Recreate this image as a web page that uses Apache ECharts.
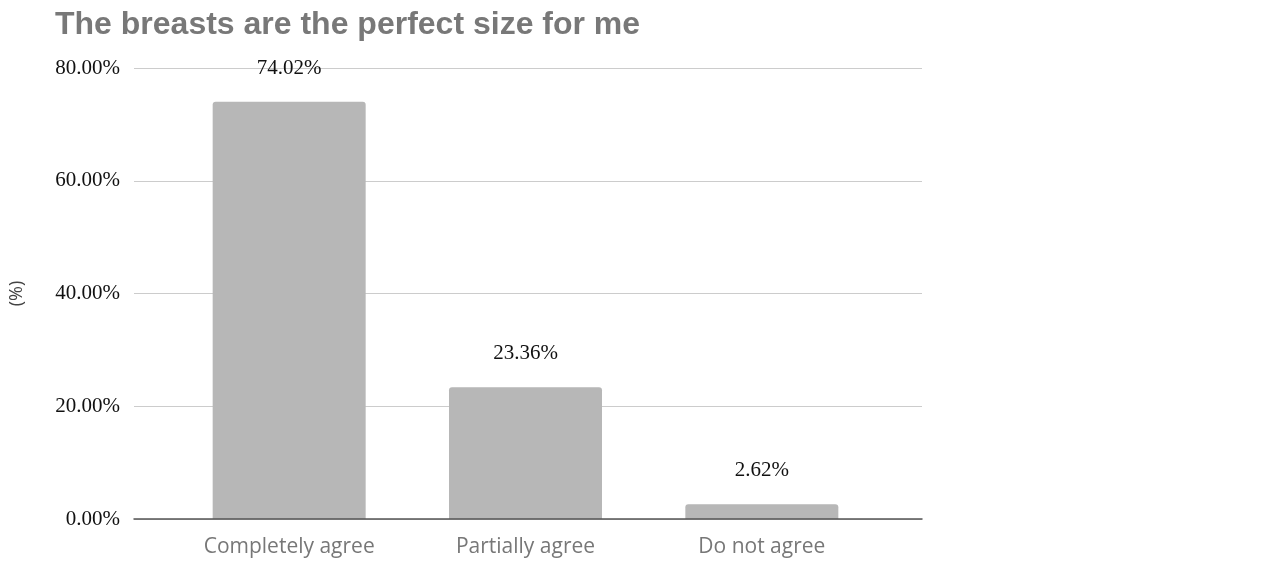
<!DOCTYPE html>
<html>
<head>
<meta charset="utf-8">
<script src="https://cdn.jsdelivr.net/npm/echarts@6/dist/echarts.min.js"></script>
<style>
  html, body { margin: 0; padding: 0; background: #fff; }
  #chart { width: 1280px; height: 564px; }
</style>
</head>
<body>
<div id="chart"></div>
<script>
const categories = ['Completely agree', 'Partially agree', 'Do not agree']
const values = [74.02, 23.36, 2.62]
const yTicks = [0, 20, 40, 60, 80]

const pct = v => v.toFixed(2) + '%'

const chart = echarts.init(document.getElementById('chart'))
chart.setOption({
  animation: false,
  title: {
    text: 'The breasts are the perfect size for me',
    left: 50,
    top: 4,
    textStyle: {
      fontFamily: 'Liberation Sans',
      fontWeight: 'bold',
      fontSize: 32,
      color: '#787878'
    }
  },
  // grid 0 carries the frame (gridlines, y labels, base line), grid 1 the bars
  grid: [
    { left: 131, right: 358, top: 68, bottom: 45 },
    { left: 171, right: 400, top: 68, bottom: 45 }
  ],
  xAxis: [{
    type: 'category',
    gridIndex: 0,
    data: categories,
    z: 5,
    axisTick: { show: false },
    axisLabel: { show: false },
    axisLine: { lineStyle: { color: '#555', width: 1.5 } }
  }, {
    type: 'category',
    gridIndex: 1,
    data: categories,
    axisTick: { show: false },
    axisLine: { show: false },
    axisLabel: {
      margin: 18,
      fontFamily: 'Open Sans',
      fontSize: 21,
      color: '#777'
    }
  }],
  yAxis: [{
    type: 'value',
    gridIndex: 0,
    min: yTicks[0],
    max: yTicks[yTicks.length - 1],
    interval: 20,
    name: '(%)',
    nameLocation: 'middle',
    nameGap: 108,
    nameTextStyle: {
      fontFamily: 'Open Sans',
      fontSize: 18,
      color: '#444'
    },
    axisLabel: {
      margin: 14,
      fontFamily: 'Liberation Serif',
      fontSize: 21,
      color: '#111',
      formatter: pct
    },
    splitLine: { lineStyle: { color: '#ccc', width: 1 } }
  }, {
    type: 'value',
    gridIndex: 1,
    min: yTicks[0],
    max: yTicks[yTicks.length - 1],
    interval: 20,
    show: false
  }],
  series: [{
    type: 'bar',
    xAxisIndex: 1,
    yAxisIndex: 1,
    data: values,
    barWidth: 153,
    itemStyle: {
      color: '#b7b7b7',
      borderRadius: [3, 3, 0, 0]
    },
    label: {
      show: true,
      position: 'top',
      distance: 23,
      fontFamily: 'Liberation Serif',
      fontSize: 21,
      color: '#111',
      formatter: p => pct(p.value)
    }
  }]
})
</script>
</body>
</html>
